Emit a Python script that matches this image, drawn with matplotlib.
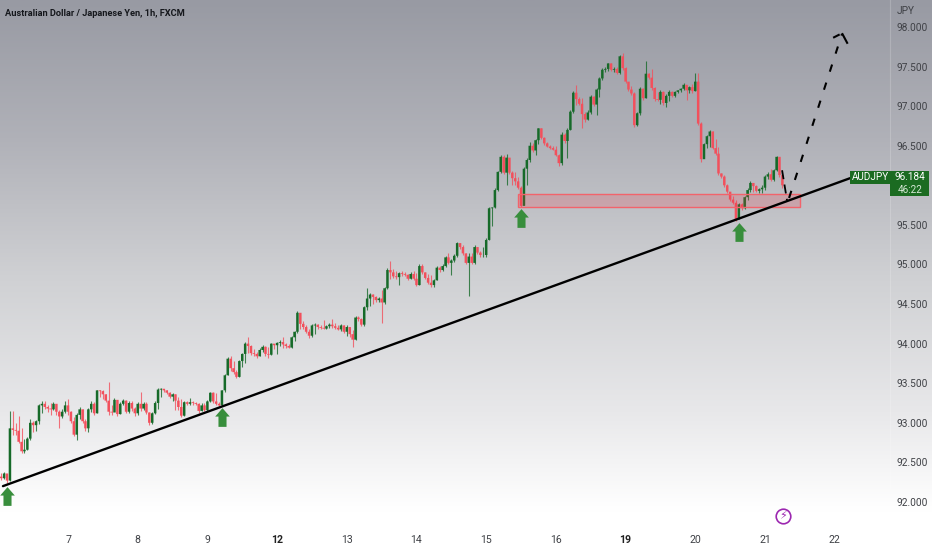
import numpy as np
import matplotlib
matplotlib.use('Agg')
import matplotlib.pyplot as plt
from matplotlib.colors import LinearSegmentedColormap
from matplotlib.patches import Rectangle

# hourly candles, hour 0 is the "7" tick, weekends skipped
closes = [92.30,92.36,92.27,92.93,92.91,92.90,92.76,92.64,92.66,92.80,93.00,92.97,93.02,93.22,93.24,93.20,93.18,93.17,93.24,93.14,93.08,93.14,93.22,
    93.14,93.02,92.85,93.10,93.17,93.02,92.93,93.17,93.24,93.12,93.41,93.40,93.36,93.28,93.14,93.13,93.29,93.11,93.24,93.28,93.14,93.25,93.18,93.12,
    93.24,93.18,93.24,93.13,93.00,93.12,93.25,93.42,93.43,93.41,93.38,93.33,93.36,93.28,93.20,93.09,93.26,93.24,93.26,93.25,93.24,93.15,93.22,93.16,
    93.27,93.38,93.27,93.24,93.22,93.41,93.60,93.81,93.69,93.64,93.58,93.78,93.87,94.00,93.97,93.88,93.87,93.84,93.92,93.96,93.87,93.86,94.00,93.98,
    94.01,94.02,93.99,93.97,93.95,94.08,94.15,94.39,94.25,94.21,94.15,94.10,94.23,94.24,94.21,94.20,94.19,94.22,94.24,94.22,94.20,94.18,94.23,94.15,
    94.21,94.12,94.05,94.33,94.31,94.24,94.46,94.57,94.62,94.59,94.55,94.57,94.52,94.70,94.93,94.90,94.85,94.84,94.89,94.88,94.87,94.82,94.88,94.82,
    94.74,94.98,94.90,94.83,94.77,94.74,94.80,94.96,94.93,94.98,95.09,95.02,95.05,95.11,95.27,95.22,95.14,95.02,95.10,95.02,95.22,95.15,95.12,95.12,
    95.31,95.71,95.72,95.94,96.17,96.36,96.16,96.35,96.16,96.09,96.05,95.97,95.74,96.21,96.32,96.50,96.44,96.57,96.72,96.60,96.53,96.49,96.47,96.45,
    96.38,96.28,96.64,96.56,96.70,96.93,97.17,97.09,97.03,96.90,96.83,96.92,97.12,97.02,97.21,97.35,97.46,97.47,97.54,97.46,97.47,97.42,97.63,97.48,
    97.31,97.21,97.16,96.76,96.91,97.22,97.10,97.41,97.36,97.23,97.09,97.08,97.18,97.04,97.13,97.18,97.13,97.18,97.20,97.22,97.27,97.20,97.24,97.19,
    97.31,96.78,96.33,96.52,96.62,96.68,96.47,96.40,96.15,96.11,96.00,95.92,95.82,95.78,95.57,95.76,95.71,95.85,95.94,96.03,95.99,95.93,95.95,95.97,
    96.11,96.14,96.07,96.19,96.36,96.13,96.00]
highs = [92.36,92.38,92.32,93.15,93.15,93.00,93.08,92.93,92.80,92.82,93.05,93.02,93.04,93.24,93.27,93.27,93.22,93.25,93.26,93.24,93.16,93.18,93.28,
    93.30,93.15,93.07,93.12,93.20,93.18,93.05,93.19,93.28,93.26,93.42,93.42,93.41,93.37,93.52,93.22,93.31,93.29,93.26,93.30,93.29,93.27,93.27,93.20,
    93.26,93.39,93.26,93.26,93.14,93.14,93.27,93.44,93.44,93.43,93.41,93.39,93.38,93.36,93.33,93.30,93.28,93.28,93.31,93.28,93.26,93.25,93.25,93.25,
    93.29,93.39,93.39,93.38,93.26,93.42,93.62,93.83,93.85,93.78,93.67,93.79,93.88,94.02,94.09,93.98,93.93,93.90,93.94,93.98,93.97,93.96,94.01,94.00,
    94.02,94.05,94.08,94.01,93.99,94.10,94.16,94.41,94.36,94.28,94.24,94.19,94.25,94.26,94.25,94.24,94.30,94.24,94.26,94.31,94.26,94.24,94.25,94.24,
    94.24,94.20,94.17,94.35,94.35,94.32,94.47,94.70,94.64,94.63,94.60,94.59,94.68,94.72,94.95,95.05,94.94,94.92,94.91,94.92,94.90,94.88,94.90,94.92,
    94.89,95.00,95.00,94.91,94.88,94.87,94.82,94.98,94.98,95.00,95.11,95.14,95.07,95.13,95.29,95.27,95.24,95.14,95.15,95.14,95.24,95.20,95.17,95.22,
    95.33,95.72,95.73,95.96,96.18,96.38,96.38,96.39,96.34,96.18,96.17,96.10,95.99,96.23,96.34,96.55,96.53,96.58,96.72,96.72,96.61,96.55,96.51,96.50,
    96.50,96.40,96.67,96.66,96.72,96.95,97.19,97.27,97.12,97.10,96.92,96.95,97.14,97.13,97.23,97.37,97.48,97.50,97.55,97.55,97.50,97.50,97.65,97.67,
    97.49,97.31,97.25,97.18,96.93,97.24,97.23,97.57,97.42,97.47,97.24,97.18,97.20,97.19,97.15,97.20,97.19,97.19,97.21,97.23,97.29,97.27,97.26,97.28,
    97.42,97.42,96.80,96.54,96.64,96.70,96.68,96.58,96.48,96.16,96.13,96.02,95.92,95.86,95.82,95.78,95.78,95.87,95.96,96.05,96.03,96.00,95.97,96.00,
    96.13,96.17,96.20,96.21,96.37,96.34,96.19]
lows = [92.28,92.29,92.24,92.27,92.85,92.85,92.74,92.62,92.62,92.66,92.78,92.88,92.90,92.98,93.12,93.18,93.14,93.10,93.16,93.10,92.94,93.06,93.12,
    93.10,93.00,92.83,92.78,93.05,93.00,92.90,92.88,93.14,93.10,93.12,93.33,93.30,93.26,93.10,93.10,93.18,93.08,93.11,93.22,93.12,93.12,93.15,93.09,
    93.10,93.15,93.16,93.11,92.97,92.99,93.11,93.18,93.33,93.39,93.36,93.31,93.27,93.16,93.16,93.07,93.08,93.22,93.22,93.23,93.22,93.13,93.15,93.15,
    93.15,93.26,93.25,93.22,93.21,93.22,93.39,93.60,93.66,93.62,93.56,93.58,93.70,93.75,93.88,93.86,93.85,93.82,93.84,93.90,93.85,93.82,93.86,93.93,
    93.87,93.97,93.95,93.95,93.94,93.95,94.03,94.13,94.19,94.19,94.13,94.07,94.08,94.12,94.19,94.18,94.18,94.19,94.20,94.20,94.19,94.17,94.16,94.13,
    94.10,94.09,93.96,94.04,94.29,94.22,94.22,94.42,94.48,94.50,94.52,94.52,94.26,94.50,94.69,94.82,94.83,94.82,94.74,94.85,94.85,94.80,94.82,94.80,
    94.73,94.74,94.88,94.82,94.75,94.72,94.72,94.80,94.90,94.92,94.97,95.00,94.87,95.03,95.10,95.20,95.12,95.00,94.60,95.00,95.01,95.13,95.10,95.10,
    95.10,95.31,95.48,95.71,95.93,96.15,96.14,96.00,96.14,96.00,96.00,95.95,95.72,95.77,96.00,96.30,96.42,96.38,96.52,96.58,96.51,96.48,96.46,96.44,
    96.37,96.25,96.26,96.54,96.34,96.70,96.91,97.02,97.01,96.73,96.80,96.82,96.90,97.00,96.89,97.12,97.33,97.43,97.45,97.44,97.43,97.40,97.41,97.46,
    97.29,97.19,97.14,96.74,96.75,96.89,97.08,97.10,97.34,97.21,97.07,97.06,97.03,97.02,96.99,97.06,97.12,97.12,97.16,97.18,97.20,97.08,97.16,97.17,
    97.19,96.76,96.30,96.36,96.47,96.49,96.46,96.38,96.13,96.09,95.98,95.90,95.80,95.76,95.55,95.57,95.69,95.70,95.82,95.92,95.91,95.91,95.90,95.90,
    95.94,96.08,96.05,96.06,96.18,96.11,95.97]
first_open = 92.32

day_hours = [0, 24, 48, 72, 96, 120, 144, 168, 192, 216, 240, 264]
day_labels = ['7', '8', '9', '12', '13', '14', '15', '16', '19', '20', '21', '22']
price_ticks = [92, 92.5, 93, 93.5, 94, 94.5, 95, 95.5, 96.5, 97, 97.5, 98]

last_price = 96.184
trend_h = [-22.4, 269.3]
trend_p = [92.20, 96.09]
zone_h = [155, 252]
zone_p = [95.73, 95.89]
arrow_h = [-21, 53, 156, 231]
arrow_p = [92.08, 93.07, 95.59, 95.41]

up = '#166a29'
down = '#f2505c'
txt = '#3f4146'

hours = np.arange(len(closes)) - 23
opens = [first_open] + closes[:-1]
o = np.array(opens)
c = np.array(closes)
is_up = c >= o

fig = plt.figure(figsize=(9.32, 5.5), dpi=100)

bg = fig.add_axes([0, 0, 1, 1], zorder=0)
bg.set_axis_off()
cmap = LinearSegmentedColormap.from_list('bg', [(0, '#989aa3'), (0.25, '#b0b1b8'), (0.5, '#cfd0d3'), (0.75, '#e8e8ea'), (0.93, '#ffffff'), (1, '#ffffff')])
bg.imshow(np.linspace(0, 1, 256).reshape(-1, 1), aspect='auto', cmap=cmap, extent=[0, 1, 0, 1], origin='upper', vmin=0, vmax=1)

ax = fig.add_axes([0, 25 / 550, 890 / 932, 525 / 550], zorder=1)
ax.patch.set_alpha(0)
ax.set_xlim(-23.42, 283.06)
ax.set_ylim(91.709, 98.341)

ax.vlines(hours[is_up], np.array(lows)[is_up], np.array(highs)[is_up], color=up, lw=0.8, zorder=2, alpha=0.8)
ax.vlines(hours[~is_up], np.array(lows)[~is_up], np.array(highs)[~is_up], color=down, lw=0.8, zorder=2, alpha=0.8)
body_up = ax.bar(hours[is_up], (c - o)[is_up], bottom=o[is_up], width=0.85, color=up, lw=0, zorder=3)
body_down = ax.bar(hours[~is_up], (c - o)[~is_up], bottom=o[~is_up], width=0.85, color=down, lw=0, zorder=3)
for b in list(body_up) + list(body_down):
    b.set_snap(False)

ax.add_patch(Rectangle((zone_h[0], zone_p[0]), zone_h[1] - zone_h[0], zone_p[1] - zone_p[0],
                       facecolor=(0.95, 0.21, 0.27, 0.2), edgecolor='#f2636b', lw=1, zorder=4))

ax.plot(trend_h, trend_p, color='black', lw=1.7, zorder=5, solid_capstyle='round')

# projected path, dashed up to the hand drawn arrow tip
ax.plot([245.9, 247.6], [96.19, 95.81], color='black', lw=1.3, ls=(0, (5, 3)), zorder=6)
ax.plot([248.3, 266.5], [95.84, 97.91], color='black', lw=1.5, ls=(0, (3.6, 5.5)), zorder=6)
ax.plot([263.8, 265.4], [97.87, 97.90], color='black', lw=1.5, zorder=6)
ax.plot([266.7, 268.3], [97.91, 97.80], color='black', lw=1.5, zorder=6)

arrow = [(0, 1), (0.78, 0.1), (0.43, 0.1), (0.43, -1), (-0.43, -1), (-0.43, 0.1), (-0.78, 0.1)]
ax.plot(arrow_h, arrow_p, ls='', marker=arrow, ms=13.5, color='#388e3c', mew=0, zorder=7, clip_on=False)

# last price tag
ax.add_patch(Rectangle((269.3, 96.02), 13.76, 0.165, facecolor='#1b6b21', lw=0, zorder=8, clip_on=False))
ax.add_patch(Rectangle((283.06, 95.86), 13.4, 0.325, facecolor='#1b6b21', lw=0, zorder=8, clip_on=False))
ax.text(276.2, 96.103, 'AUDJPY', color='white', fontsize=7.2, family='Roboto', ha='center', va='center', zorder=9)
ax.text(290, last_price - 0.08, '%.3f' % last_price, color='white', fontsize=7.2, family='Roboto', ha='center', va='center', zorder=9, clip_on=False)
ax.text(290, 95.945, '46:22', color='#d5e8d5', fontsize=7.2, family='Roboto', ha='center', va='center', zorder=9, clip_on=False)

# lightning badge
ax.plot([246.2], [91.82], ls='', marker='o', ms=10.5, mfc='none', mec='#9c27b0', mew=1.2, zorder=6)
ax.text(246.2, 91.82, '\u26a1', color='#9c27b0', fontsize=8, family='DejaVu Sans', ha='center', va='center', zorder=6)

ax.yaxis.tick_right()
ax.set_yticks(price_ticks)
ax.set_yticklabels(['%.3f' % p for p in price_ticks], family='Roboto', fontsize=7.3, color=txt)
ax.set_xticks(day_hours)
ax.set_xticklabels(day_labels, family='Roboto', fontsize=7.6, color=txt)
for lab in ax.get_xticklabels():
    if lab.get_text() in ('12', '19'):
        lab.set_fontweight('bold')
        lab.set_color('#222222')
ax.tick_params(axis='y', length=0, pad=4.5)
ax.tick_params(axis='x', length=0, pad=7)
for s in ('top', 'left', 'bottom'):
    ax.spines[s].set_visible(False)
ax.spines['right'].set_color((1, 1, 1, 0.18))
ax.spines['right'].set_linewidth(0.8)

fig.text(5 / 932, 1 - 14 / 550, 'Australian Dollar / Japanese Yen, 1h, FXCM', family='Roboto', weight='bold',
         fontsize=6.7, color='#15171c', ha='left', va='center')
fig.text(897 / 932, 1 - 11 / 550, 'JPY', family='Roboto', fontsize=7.3, color=txt, ha='left', va='center')

fig.savefig('out.png', dpi=100)
